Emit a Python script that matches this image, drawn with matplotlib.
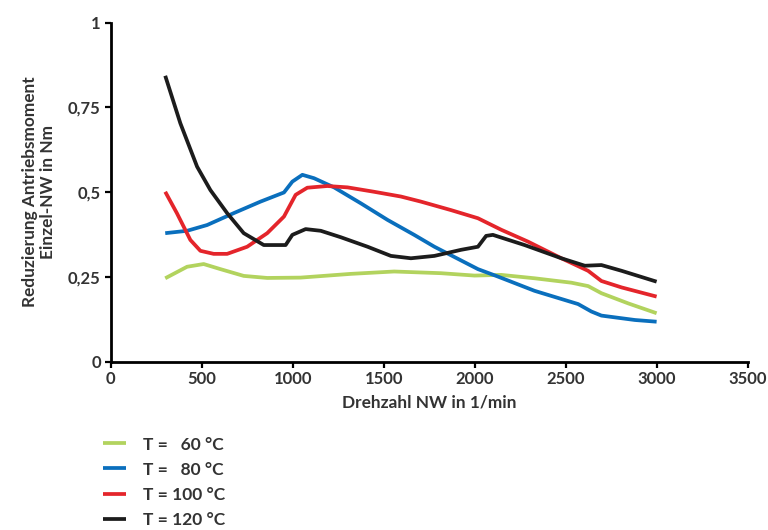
import matplotlib.pyplot as plt
from matplotlib.ticker import FixedLocator, FixedFormatter

plt.rcParams['font.family'] = ['Lato', 'DejaVu Sans']
plt.rcParams['font.weight'] = 'bold'

# values
x_60 = [300, 420, 511, 603, 731, 860, 1043, 1319, 1557, 1814, 1998, 2145, 2328, 2530, 2622, 2695, 2842, 2998]
y_60 = [0.246, 0.280, 0.288, 0.273, 0.253, 0.247, 0.248, 0.259, 0.266, 0.261, 0.254, 0.256, 0.246, 0.233, 0.223, 0.202, 0.172, 0.143]

x_80 = [300, 420, 530, 676, 823, 952, 998, 1053, 1117, 1227, 1374, 1521, 1667, 1778, 2017, 2127, 2328, 2567, 2640, 2695, 2879, 2998]
y_80 = [0.379, 0.386, 0.403, 0.438, 0.472, 0.499, 0.531, 0.551, 0.541, 0.514, 0.467, 0.418, 0.374, 0.339, 0.273, 0.251, 0.209, 0.170, 0.148, 0.136, 0.123, 0.118]

x_100 = [300, 364, 438, 493, 566, 640, 750, 860, 952, 1016, 1080, 1190, 1301, 1447, 1594, 1704, 1869, 2017, 2145, 2292, 2475, 2622, 2695, 2806, 2998]
y_100 = [0.501, 0.438, 0.359, 0.327, 0.318, 0.318, 0.339, 0.379, 0.428, 0.492, 0.513, 0.518, 0.514, 0.501, 0.487, 0.472, 0.447, 0.423, 0.389, 0.354, 0.305, 0.268, 0.238, 0.219, 0.192]

x_120 = [300, 383, 475, 548, 640, 731, 841, 961, 998, 1071, 1154, 1264, 1411, 1539, 1649, 1778, 1925, 2017, 2062, 2099, 2273, 2475, 2604, 2695, 2806, 2998]
y_120 = [0.843, 0.703, 0.575, 0.506, 0.438, 0.379, 0.344, 0.344, 0.374, 0.391, 0.386, 0.367, 0.339, 0.312, 0.305, 0.312, 0.330, 0.339, 0.371, 0.374, 0.344, 0.305, 0.283, 0.285, 0.268, 0.236]

labels = ['T =   60 °C', 'T =   80 °C', 'T = 100 °C', 'T = 120 °C']
colors = ['#b2d35e', '#0a6fbd', '#e4252b', '#1c1c1c']

x_ticks = [0, 500, 1000, 1500, 2000, 2500, 3000, 3500]
y_ticks = [0, 0.25, 0.5, 0.75, 1]
y_tick_labels = ['0', '0,25', '0,5', '0,75', '1']

text_color = '#333333'

fig = plt.figure(figsize=(7.68, 5.3), dpi=100)
ax = fig.add_axes([0.144, 0.3175, 0.83, 0.64])

series = [(x_60, y_60), (x_80, y_80), (x_100, y_100), (x_120, y_120)]
for (xs, ys), lab, col in zip(series, labels, colors):
    ax.plot(xs, ys, color=col, lw=2.7, label=lab, solid_capstyle='butt')

ax.set_xlim(0, 3500)
ax.set_ylim(0, 1)
ax.xaxis.set_major_locator(FixedLocator(x_ticks))
ax.yaxis.set_major_locator(FixedLocator(y_ticks))
ax.yaxis.set_major_formatter(FixedFormatter(y_tick_labels))

for side in ['top', 'right']:
    ax.spines[side].set_visible(False)
for side in ['left', 'bottom']:
    ax.spines[side].set_linewidth(2)
    ax.spines[side].set_color('black')
ax.tick_params(direction='out', length=4, width=1.6, labelsize=12, labelcolor=text_color, pad=3)

ax.set_xlabel('Drehzahl NW in 1/min', fontsize=12.4, color=text_color, fontweight='bold', labelpad=5)
ax.set_ylabel('Reduzierung Antriebsmoment\nEinzel-NW in Nm', fontsize=12.4, color=text_color,
              fontweight='bold', labelpad=9, linespacing=1.1)

fig.legend(loc='upper left', bbox_to_anchor=(0.121, 0.196), frameon=False, fontsize=12.5,
           handlelength=1.3, handletextpad=1.0, labelspacing=0.52, labelcolor=text_color,
           borderaxespad=0.2)

fig.savefig('out.png', dpi=100)
